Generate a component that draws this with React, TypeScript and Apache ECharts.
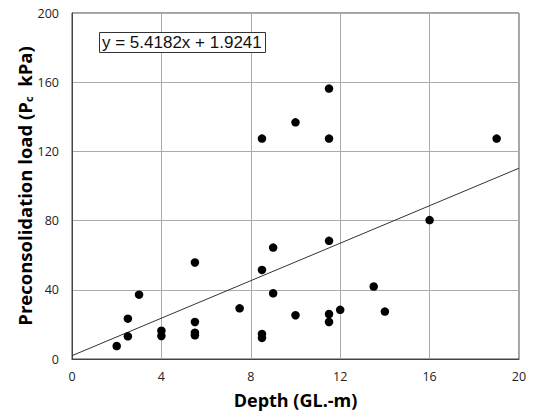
import React, { useEffect, useRef } from "react";
import * as echarts from "echarts";

const depthValues: number[] = [
  2.0, 2.5, 2.5, 3.0, 4.0, 4.0, 5.5, 5.5, 5.5, 5.5, 7.5, 8.5, 8.5, 8.5, 8.5,
  9.0, 9.0, 10.0, 10.0, 11.5, 11.5, 11.5, 11.5, 11.5, 12.0, 13.5, 14.0, 16.0, 19.0,
];
const loadValues: number[] = [
  7.5, 23.3, 13.1, 37.2, 16.4, 13.3, 55.8, 21.4, 15.2, 13.7, 29.3, 127.4, 51.5, 14.5, 12.2,
  64.4, 38.0, 136.8, 25.3, 156.3, 127.4, 68.3, 26.0, 21.4, 28.4, 41.9, 27.4, 80.3, 127.4,
];
const trendSlope = 5.4182;
const trendIntercept = 1.9241;
const trendXRange: number[] = [0, 20];
const equationText = "y = 5.4182x + 1.9241";
const xAxisTitle = "Depth (GL.-m)";
const yAxisTitle = "Preconsolidation load (P{sub|c}  kPa)";

export default function App() {
  const ref = useRef<HTMLDivElement>(null);
  useEffect(() => {
    if (!ref.current) return;
    const chart = echarts.init(ref.current, undefined, { renderer: "svg" });
    const points = depthValues.map((d, i) => [d, loadValues[i]]);
    const trend = trendXRange.map((x) => [x, trendSlope * x + trendIntercept]);
    const tickFont = { fontFamily: "Open Sans", fontSize: 12.5, color: "#222" };
    chart.setOption({
      animation: false,
      backgroundColor: "#fff",
      title: {
        text: equationText,
        left: 99,
        top: 32,
        padding: [2, 4, 2, 3],
        borderColor: "#333",
        borderWidth: 1,
        backgroundColor: "#fff",
        textStyle: {
          fontFamily: "Liberation Sans",
          fontSize: 17,
          fontWeight: "normal",
          color: "#111",
        },
      },
      grid: {
        left: 72,
        right: 15,
        top: 13,
        bottom: 55,
        show: true,
        borderColor: "#444",
        borderWidth: 1,
      },
      xAxis: {
        type: "value",
        min: 0,
        max: 20,
        interval: 4,
        name: xAxisTitle,
        nameLocation: "middle",
        nameGap: 32,
        nameMoveOverlap: false,
        nameTextStyle: { fontFamily: "Open Sans", fontWeight: "bold", fontSize: 18, color: "#000" },
        axisLine: { show: true, lineStyle: { color: "#444", width: 1 } },
        axisTick: { show: false },
        axisLabel: { ...tickFont, margin: 11 },
        splitLine: { show: true, lineStyle: { color: "#aaa", width: 1 } },
      },
      yAxis: {
        type: "value",
        min: 0,
        max: 200,
        interval: 40,
        name: yAxisTitle,
        nameLocation: "middle",
        nameGap: 38,
        nameMoveOverlap: false,
        nameTextStyle: {
          fontFamily: "Open Sans",
          fontWeight: "bold",
          fontSize: 18.5,
          color: "#000",
          rich: {
            sub: {
              fontFamily: "Open Sans",
              fontWeight: "bold",
              fontSize: 11,
              color: "#000",
              verticalAlign: "bottom",
              padding: [8, 0, 0, 0],
            },
          },
        },
        axisLine: { show: true, lineStyle: { color: "#444", width: 1 } },
        axisTick: { show: false },
        axisLabel: { ...tickFont, margin: 13 },
        splitLine: { show: true, lineStyle: { color: "#aaa", width: 1 } },
      },
      series: [
        {
          type: "line",
          data: trend,
          symbol: "none",
          lineStyle: { color: "#333", width: 1 },
          silent: true,
          z: 2,
        },
        {
          type: "scatter",
          data: points,
          symbol: "circle",
          symbolSize: 8.5,
          itemStyle: { color: "#000", opacity: 1 },
          z: 3,
        },
      ],
    });
    return () => chart.dispose();
  }, []);
  return (
    <div
      ref={ref}
      style={{ position: "fixed", left: 0, top: 0, width: 534, height: 414, background: "#fff" }}
    />
  );
}
